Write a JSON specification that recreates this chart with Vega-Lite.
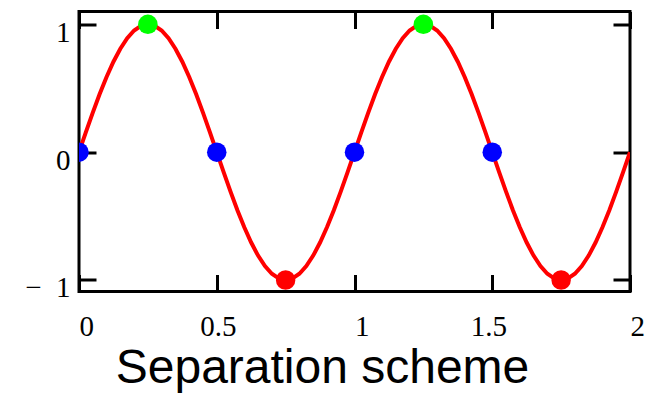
{
  "$schema": "https://vega.github.io/schema/vega-lite/v6.json",
  "width": 551,
  "height": 280,
  "autosize": {"type": "none"},
  "padding": {"left": 79, "top": 11.5, "right": 26, "bottom": 101.5},
  "background": "white",
  "config": {
    "view": {"stroke": "black", "strokeWidth": 3},
    "axis": {
      "domain": false,
      "grid": false,
      "tickColor": "black",
      "tickWidth": 3,
      "tickSize": -17,
      "labelFont": "Liberation Serif",
      "labelFontSize": 29,
      "labelColor": "black"
    }
  },
  "datasets": {
    "curve": [
      {"x": 0.000, "y": 0}, {"x": 0.025, "y": 0.1564}, {"x": 0.050, "y": 0.3090}, {"x": 0.075, "y": 0.4540},
      {"x": 0.100, "y": 0.5878}, {"x": 0.125, "y": 0.7071}, {"x": 0.150, "y": 0.8090}, {"x": 0.175, "y": 0.8910},
      {"x": 0.200, "y": 0.9511}, {"x": 0.225, "y": 0.9877}, {"x": 0.250, "y": 1}, {"x": 0.275, "y": 0.9877},
      {"x": 0.300, "y": 0.9511}, {"x": 0.325, "y": 0.8910}, {"x": 0.350, "y": 0.8090}, {"x": 0.375, "y": 0.7071},
      {"x": 0.400, "y": 0.5878}, {"x": 0.425, "y": 0.4540}, {"x": 0.450, "y": 0.3090}, {"x": 0.475, "y": 0.1564},
      {"x": 0.500, "y": 0}, {"x": 0.525, "y": -0.1564}, {"x": 0.550, "y": -0.3090}, {"x": 0.575, "y": -0.4540},
      {"x": 0.600, "y": -0.5878}, {"x": 0.625, "y": -0.7071}, {"x": 0.650, "y": -0.8090}, {"x": 0.675, "y": -0.8910},
      {"x": 0.700, "y": -0.9511}, {"x": 0.725, "y": -0.9877}, {"x": 0.750, "y": -1}, {"x": 0.775, "y": -0.9877},
      {"x": 0.800, "y": -0.9511}, {"x": 0.825, "y": -0.8910}, {"x": 0.850, "y": -0.8090}, {"x": 0.875, "y": -0.7071},
      {"x": 0.900, "y": -0.5878}, {"x": 0.925, "y": -0.4540}, {"x": 0.950, "y": -0.3090}, {"x": 0.975, "y": -0.1564},
      {"x": 1.000, "y": 0}, {"x": 1.025, "y": 0.1564}, {"x": 1.050, "y": 0.3090}, {"x": 1.075, "y": 0.4540},
      {"x": 1.100, "y": 0.5878}, {"x": 1.125, "y": 0.7071}, {"x": 1.150, "y": 0.8090}, {"x": 1.175, "y": 0.8910},
      {"x": 1.200, "y": 0.9511}, {"x": 1.225, "y": 0.9877}, {"x": 1.250, "y": 1}, {"x": 1.275, "y": 0.9877},
      {"x": 1.300, "y": 0.9511}, {"x": 1.325, "y": 0.8910}, {"x": 1.350, "y": 0.8090}, {"x": 1.375, "y": 0.7071},
      {"x": 1.400, "y": 0.5878}, {"x": 1.425, "y": 0.4540}, {"x": 1.450, "y": 0.3090}, {"x": 1.475, "y": 0.1564},
      {"x": 1.500, "y": 0}, {"x": 1.525, "y": -0.1564}, {"x": 1.550, "y": -0.3090}, {"x": 1.575, "y": -0.4540},
      {"x": 1.600, "y": -0.5878}, {"x": 1.625, "y": -0.7071}, {"x": 1.650, "y": -0.8090}, {"x": 1.675, "y": -0.8910},
      {"x": 1.700, "y": -0.9511}, {"x": 1.725, "y": -0.9877}, {"x": 1.750, "y": -1}, {"x": 1.775, "y": -0.9877},
      {"x": 1.800, "y": -0.9511}, {"x": 1.825, "y": -0.8910}, {"x": 1.850, "y": -0.8090}, {"x": 1.875, "y": -0.7071},
      {"x": 1.900, "y": -0.5878}, {"x": 1.925, "y": -0.4540}, {"x": 1.950, "y": -0.3090}, {"x": 1.975, "y": -0.1564},
      {"x": 2.000, "y": 0}
    ],
    "markers": [
      {"x": 0, "y": 0, "kind": "zero"},
      {"x": 0.5, "y": 0, "kind": "zero"},
      {"x": 1, "y": 0, "kind": "zero"},
      {"x": 1.5, "y": 0, "kind": "zero"},
      {"x": 0.25, "y": 1, "kind": "max"},
      {"x": 1.25, "y": 1, "kind": "max"},
      {"x": 0.75, "y": -1, "kind": "min"},
      {"x": 1.75, "y": -1, "kind": "min"}
    ]
  },
  "layer": [
    {
      "data": {"name": "curve"},
      "mark": {"type": "line", "color": "#ff0000", "strokeWidth": 4, "clip": true},
      "encoding": {
        "x": {
          "field": "x", "type": "quantitative",
          "scale": {"domain": [0, 2], "nice": false, "zero": false},
          "axis": {
            "orient": "bottom",
            "values": [0, 0.5, 1, 1.5, 2],
            "format": "~g",
            "labelFont": "Liberation Serif",
            "labelFontSize": 29,
            "labelColor": "black",
            "labelPadding": 38,
            "labelAlign": "left",
            "labelOffset": {
              "condition": [
                {"test": "datum.value === 0.5", "value": -17},
                {"test": "datum.value === 1.5", "value": -22}
              ],
              "value": 0
            },
            "labelBaseline": "top",
            "labelFlush": false,
            "title": "Separation scheme",
            "titleFont": "Liberation Sans",
            "titleFontSize": 48,
            "titleFontWeight": "normal",
            "titleColor": "black",
            "titleX": 243,
            "titleY": 90.5,
            "titleAlign": "center",
            "titleBaseline": "alphabetic"
          }
        },
        "y": {
          "field": "y", "type": "quantitative",
          "scale": {"domain": [-1.09, 1.1], "nice": false, "zero": false},
          "axis": {
            "orient": "left",
            "values": [-1, 0, 1],
            "format": "~g",
            "labelFont": "Liberation Serif",
            "labelFontSize": 29,
            "labelColor": "black",
            "labelPadding": 26,
            "labelOffset": 8,
            "labelBaseline": "middle",
            "labelFlush": false,
            "labelExpr": "datum.value === -1 ? '−\u00a0\u00a01' : datum.label",
            "title": null
          }
        }
      }
    },
    {
      "data": {"name": "markers"},
      "mark": {"type": "circle", "size": 380, "opacity": 1, "clip": true},
      "encoding": {
        "x": {
          "field": "x", "type": "quantitative",
          "axis": {"orient": "top", "values": [0, 0.5, 1, 1.5, 2], "labels": false, "title": null}
        },
        "y": {
          "field": "y", "type": "quantitative",
          "axis": {"orient": "right", "values": [-1, 0, 1], "labels": false, "title": null}
        },
        "color": {
          "field": "kind", "type": "nominal",
          "scale": {"domain": ["zero", "max", "min"], "range": ["#0000ff", "#00ff00", "#ff0000"]},
          "legend": null
        }
      }
    }
  ],
  "resolve": {"axis": {"x": "independent", "y": "independent"}}
}
